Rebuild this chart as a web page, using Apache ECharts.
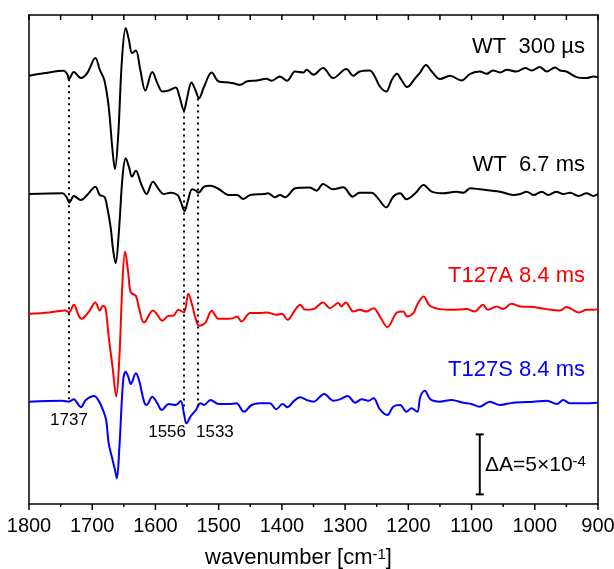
<!DOCTYPE html>
<html>
<head>
<meta charset="utf-8">
<script src="https://cdn.jsdelivr.net/npm/echarts@6/dist/echarts.min.js"></script>
<style>
  html, body { margin: 0; padding: 0; background: #fff; }
  #chart { width: 614px; height: 569px; }
</style>
</head>
<body>
<div id="chart"></div>
<script>
// spectra: [wavenumber cm-1, dA x 10^4]
const wt300 = [
  [1800, 0.08], [1774, 0.31], [1745, 0.5], [1739, 0.17], [1737, -0.19], [1729, 0.39],
  [1718, -0.11], [1708, 0.31], [1695, 1.56], [1688, 0.58], [1681, -0.25], [1674, -2.48],
  [1668, -6.08], [1664, -7.69], [1659, -4.98], [1653, 1.42], [1647, 4.06], [1642, 3.08],
  [1637, 1.98], [1631, 2.19], [1624, 0.58], [1616, -1.14], [1605, 0.39], [1597, -0.53],
  [1589, -1.23], [1579, -1.14], [1568, -0.89], [1562, -1.64], [1555, -2.81], [1550, -1.78],
  [1543, -0.48], [1537, -1.08], [1531, -1.78], [1523, -0.81], [1511, 0.36], [1500, -0.39],
  [1484, -0.48], [1477, -0.53], [1466, -0.67], [1456, -0.39], [1440, -0.31], [1424, -0.17],
  [1416, -0.33], [1403, 0.03], [1392, -0.33], [1379, 0.44], [1366, 0.36], [1361, 0.58],
  [1350, 0.17], [1335, 0.73], [1319, -0.11], [1298, 0.64], [1287, 0.08], [1277, 0.44],
  [1261, 0.53], [1253, 0.03], [1245, -0.81], [1235, -1.23], [1226, -0.25], [1218, 0.25],
  [1211, -0.25], [1202, -0.86], [1189, -0.11], [1182, 0.31], [1172, 0.98], [1163, 0.44],
  [1150, -0.19], [1134, 0.08], [1116, -0.31], [1102, 0.25], [1087, 0.44], [1076, 0.25],
  [1066, 0.53], [1055, 0.36], [1044, 0.58], [1029, 0.44], [1015, 0.73], [1005, 0.53],
  [992, 0.81], [981, 0.44], [968, 0.78], [960, 0.53], [950, 0.44], [934, -0.03],
  [918, -0.11], [907, 0.03], [900, -0.03]
]
const wt67 = [
  [1800, 0.08], [1747, 0.14], [1741, -0.14], [1736, -0.64], [1729, -0.08], [1718, -0.42],
  [1708, 0], [1695, 0.69], [1688, 0], [1681, -0.14], [1678, -0.56], [1671, -2.64],
  [1667, -4.58], [1663, -5.69], [1658, -3.19], [1652, 1.53], [1647, 3.06], [1642, 2.36],
  [1637, 1.53], [1631, 2.03], [1623, 0.98], [1614, 0.08], [1604, 1.11], [1594, 0.42],
  [1587, 0.08], [1576, 0.19], [1565, 0], [1560, -0.56], [1554, -1.33], [1549, -0.56],
  [1542, 0.48], [1536, 0.36], [1532, 0.19], [1523, 0.69], [1513, 0.78], [1500, 0.5],
  [1484, 0], [1471, 0], [1461, -0.33], [1450, 0], [1429, 0.08], [1422, 0.14],
  [1411, -0.19], [1403, 0], [1395, -0.19], [1379, 0.56], [1369, 0.61], [1356, 0.63],
  [1345, 0.36], [1335, 0.92], [1319, 0.48], [1303, 0.64], [1288, -0.14], [1277, 0.19],
  [1258, 0.19], [1248, -0.28], [1235, -1.03], [1224, -0.14], [1213, 0.14], [1203, -0.36],
  [1189, 0.14], [1176, 0.83], [1163, 0.28], [1145, 0.14], [1124, 0.28], [1113, 0.19],
  [1102, 0.56], [1087, 0.48], [1055, 0.28], [1034, 0], [1023, 0.08], [1013, 0.28],
  [1002, 0], [989, 0.28], [979, 0], [966, 0.28], [955, 0.08], [944, 0.19],
  [931, -0.08], [918, 0.14], [907, -0.08], [900, 0.08]
]
const t127a = [
  [1800, 0], [1768, 0.11], [1742, 0.28], [1737, 0.11], [1729, 0.75], [1722, -0.08],
  [1717, -0.42], [1705, 0.19], [1695, 0.94], [1688, 0.28], [1683, 0.67], [1679, 0.47],
  [1674, -1.89], [1668, -4.39], [1662, -6.89], [1657, -3.56], [1652, 2.83], [1648, 5.19],
  [1643, 3.39], [1639, 1.78], [1631, 1.5], [1626, 0.47], [1618, -0.73], [1604, 0.28],
  [1597, -0.08], [1589, -0.58], [1579, -0.17], [1572, -0.17], [1564, 0.33], [1555, 0.11],
  [1548, 1.67], [1542, 0.75], [1536, -0.5], [1531, -1.0], [1521, -0.73], [1511, 0.25],
  [1500, -0.42], [1484, -0.42], [1477, -0.36], [1471, -0.22], [1464, -0.64], [1450, 0.06],
  [1435, 0.06], [1424, 0.11], [1408, -0.08], [1400, 0], [1391, -0.5], [1379, 0.33],
  [1371, 0.75], [1363, 0.33], [1350, 0.39], [1335, 0.94], [1324, 0.47], [1311, 0.89],
  [1306, 0.61], [1299, 0.94], [1287, 0.19], [1277, 0.33], [1266, 0.19], [1255, 0.47],
  [1245, -0.22], [1233, -1.11], [1218, 0.11], [1208, 0.19], [1202, -0.22], [1192, 0.06],
  [1186, 0.75], [1176, 1.44], [1166, 0.67], [1150, 0.39], [1129, 0.33], [1108, 0.39],
  [1095, 0.19], [1082, 0.75], [1074, 0.33], [1060, 0.61], [1050, 0.39], [1037, 0.83],
  [1023, 0.61], [1002, 0.56], [981, 0.39], [960, 0.28], [950, 0.56], [930, 0.11],
  [918, 0.33], [907, 0.33], [900, 0.39]
]
const t127s = [
  [1800, 0.03], [1747, 0.11], [1737, 0.03], [1729, 0.22], [1724, -0.06], [1718, -0.44],
  [1710, 0.17], [1697, 0.5], [1689, 0.03], [1683, -0.67], [1678, -1.5], [1674, -3.44],
  [1669, -4.56], [1664, -5.67], [1661, -6.36], [1657, -3.73], [1651, 1.83], [1647, 2.53],
  [1643, 2.11], [1639, 1.5], [1631, 2.39], [1626, 1.83], [1618, 0.03], [1614, -0.25],
  [1605, 0.44], [1597, -0.11], [1590, -0.67], [1579, -0.17], [1568, -0.25], [1560, 0.08],
  [1555, -0.94], [1551, -1.78], [1544, -1.17], [1536, -0.67], [1529, -0.11], [1523, -0.25],
  [1513, 0.17], [1500, -0.17], [1484, -0.17], [1472, -0.11], [1460, -0.81], [1448, -0.25],
  [1435, -0.11], [1419, -0.11], [1409, -0.61], [1399, -0.17], [1391, -0.44], [1382, 0.03],
  [1371, 0.39], [1361, 0.17], [1350, 0.03], [1333, 0.67], [1319, 0.11], [1308, 0.22],
  [1296, 0.5], [1284, -0.06], [1274, 0.22], [1263, 0.11], [1255, 0.31], [1245, -0.61],
  [1233, -1.08], [1224, -0.39], [1213, -0.25], [1203, -0.81], [1195, -0.53], [1186, -0.81],
  [1181, 0.44], [1174, 0.94], [1165, 0.22], [1150, 0.03], [1132, 0.17], [1113, -0.06],
  [1100, -0.17], [1087, -0.39], [1071, 0.03], [1055, -0.25], [1034, -0.06], [1002, 0.03],
  [981, 0.11], [965, -0.17], [955, 0.17], [944, -0.11], [923, -0.11], [900, -0.06]
]

const seriesNames = ['WT  300 µs', 'WT  6.7 ms', 'T127A 8.4 ms', 'T127S 8.4 ms']
const seriesColors = ['#000000', '#000000', '#ff0000', '#0000ff']
// vertical stacking offsets, same units
const offsets = [35.6, 25.75, 15.85, 8.5]

// marked bands and the extent of the dotted guide lines
const bandWn = [1737, 1556, 1533]
const bandTop = [35.4, 32.8, 33.8]
const bandBottom = [8.6, 8.0, 8.1]

// scale bar: 5 units = 5x10^-4
const scaleWn = 1087
const scaleLow = 0.8
const scaleSize = 5

const xTicks = [1800, 1700, 1600, 1500, 1400, 1300, 1200, 1100, 1000, 900]
const xMinorTicks = [1750, 1650, 1550, 1450, 1350, 1250, 1150, 1050, 950]

const chart = echarts.init(document.getElementById('chart'))
const FONT = 'Liberation Sans, Arial, sans-serif'

const spectra = [wt300, wt67, t127a, t127s]
const lineSeries = spectra.map((s, i) => {
  return {
    name: seriesNames[i],
    type: 'line',
    data: s.map(p => [p[0], p[1] + offsets[i]]),
    showSymbol: false,
    smooth: 0.35,
    lineStyle: { color: seriesColors[i], width: 2 },
    silent: true,
    z: 3
  }
})

lineSeries[0].markLine = {
  silent: true,
  symbol: 'none',
  label: { show: false },
  lineStyle: { color: '#000', width: 2, type: [2, 4] },
  data: bandWn.map((w, i) => [{ coord: [w, bandTop[i]] }, { coord: [w, bandBottom[i]] }])
}

const scaleSeries = {
  type: 'custom',
  silent: true,
  clip: false,
  data: [[scaleWn, scaleLow, scaleLow + scaleSize]],
  renderItem: (params, api) => {
    const lo = api.coord([api.value(0), api.value(1)])
    const hi = api.coord([api.value(0), api.value(2)])
    const st = { stroke: '#000', lineWidth: 2 }
    return {
      type: 'group',
      children: [
        { type: 'line', shape: { x1: lo[0], y1: lo[1], x2: hi[0], y2: hi[1] }, style: st },
        { type: 'line', shape: { x1: lo[0] - 4, y1: lo[1], x2: lo[0] + 4, y2: lo[1] }, style: st },
        { type: 'line', shape: { x1: hi[0] - 4, y1: hi[1], x2: hi[0] + 4, y2: hi[1] }, style: st }
      ]
    }
  }
}

// frame ticks: major/minor outward at the bottom, all inward at the top
const tickData = xTicks.map(w => [w, 0]).concat(xMinorTicks.map(w => [w, 1]))
const tickSeries = {
  type: 'custom',
  silent: true,
  clip: false,
  data: tickData,
  renderItem: (params, api) => {
    const cs = params.coordSys
    const x = api.coord([api.value(0), 0])[0]
    const bottom = cs.y + cs.height
    const top = cs.y
    const len = api.value(1) === 0 ? 6 : 3
    const st = { stroke: '#000', lineWidth: 1.5 }
    return {
      type: 'group',
      children: [
        { type: 'line', shape: { x1: x, y1: bottom, x2: x, y2: bottom + len }, style: st },
        { type: 'line', shape: { x1: x, y1: top, x2: x, y2: top + 5 }, style: st }
      ]
    }
  }
}

const labelY = [47, 165, 276, 370]
const labelGraphics = seriesNames.map((n, i) => {
  return {
    type: 'text',
    x: 585,
    y: labelY[i],
    style: {
      text: n,
      fill: seriesColors[i],
      font: '22px ' + FONT,
      align: 'right',
      verticalAlign: 'middle'
    }
  }
})

const bandLabels = [
  { text: '1737', x: 69, y: 420, align: 'center' },
  { text: '1556', x: 186, y: 432, align: 'right' },
  { text: '1533', x: 196, y: 432, align: 'left' }
].map(b => {
  return {
    type: 'text',
    x: b.x,
    y: b.y,
    style: { text: b.text, fill: '#000', font: '17px ' + FONT, align: b.align, verticalAlign: 'middle' }
  }
})

const frameLine = { show: true, onZero: false, lineStyle: { color: '#000', width: 1.5 } }

const option = {
  animation: false,
  backgroundColor: '#fff',
  grid: { left: 29, right: 16, top: 15, bottom: 65, containLabel: false, outerBoundsMode: 'none' },
  xAxis: [
    {
      type: 'value',
      min: 900,
      max: 1800,
      interval: 100,
      inverse: true,
      position: 'bottom',
      name: 'wavenumber [cm{sup|-1}]',
      nameLocation: 'middle',
      nameGap: 43,
      nameTextStyle: {
        color: '#000',
        fontSize: 22,
        fontFamily: FONT,
        padding: [0, 30, 0, 0],
        rich: { sup: { fontSize: 15, fontFamily: FONT, color: '#000', verticalAlign: 'top' } }
      },
      axisLine: frameLine,
      axisTick: { show: false },
      axisLabel: {
        color: '#000',
        fontSize: 20,
        fontFamily: FONT,
        margin: 12,
        formatter: v => String(v)
      },
      splitLine: { show: false }
    },
    {
      type: 'value',
      min: 900,
      max: 1800,
      inverse: true,
      position: 'top',
      axisLine: frameLine,
      axisTick: { show: false },
      axisLabel: { show: false },
      splitLine: { show: false }
    }
  ],
  yAxis: [
    {
      type: 'value',
      min: 0,
      max: 40.75,
      position: 'left',
      axisLine: frameLine,
      axisTick: { show: false },
      axisLabel: { show: false },
      splitLine: { show: false }
    },
    {
      type: 'value',
      min: 0,
      max: 40.75,
      position: 'right',
      axisLine: frameLine,
      axisTick: { show: false },
      axisLabel: { show: false },
      splitLine: { show: false }
    }
  ],
  graphic: labelGraphics.concat(bandLabels).concat([
    {
      type: 'text',
      x: 485,
      y: 465,
      style: {
        text: 'ΔA=5×10{sup|-4}',
        fill: '#000',
        font: '21px ' + FONT,
        align: 'left',
        verticalAlign: 'middle',
        rich: { sup: { fontSize: 15, fontFamily: FONT, fill: '#000', verticalAlign: 'top' } }
      }
    }
  ]),
  series: lineSeries.concat([scaleSeries, tickSeries])
}

chart.setOption(option)
</script>
</body>
</html>
